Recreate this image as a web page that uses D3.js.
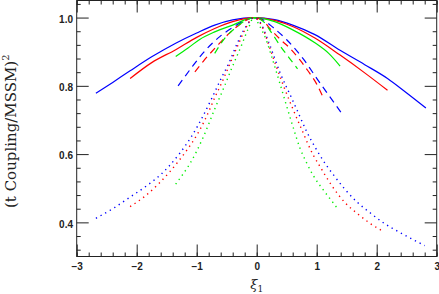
<!DOCTYPE html>
<meta charset="utf-8">
<head>
    <title>t coupling ratio</title>
    <script src="https://d3js.org/d3.v7.min.js"></script>
    <style>
        body { margin: 0; background: #fff; }
        .tick text { font-family: "Liberation Sans", Arial, sans-serif; font-size: 10px; font-weight: bold; fill: #222; }
    </style>
</head>
<body>
<div id="chart"></div>
<script>

// tick values
var xMajor = [-3, -2, -1, 0, 1, 2, 3];
var xMinor = d3.range(-3, 3.01, 0.2).map(function(v) { return +v.toFixed(2); });
var yMajor = [0.4, 0.6, 0.8, 1.0];
var yMinor = [0.32, 0.36, 0.44, 0.48, 0.52, 0.56, 0.64, 0.68, 0.72, 0.76, 0.84, 0.88, 0.92, 0.96, 1.04];

// curves: [xi_1, ratio]
var blueSolid = [[-2.68,0.778],[-2.4,0.810],[-2.11,0.844],[-1.75,0.885],[-1.35,0.925],[-1.0,0.955],[-0.7,0.978],[-0.4,0.993],[-0.05,1.0],[0.3,0.994],[0.6,0.978],[0.97,0.950],[1.39,0.904],[1.8,0.862],[2.18,0.8215],[2.5,0.779],[2.82,0.735]];
var redSolid = [[-2.11,0.8215],[-1.75,0.868],[-1.35,0.906],[-1.0,0.942],[-0.7,0.968],[-0.4,0.988],[-0.05,1.0],[0.3,0.992],[0.6,0.974],[0.97,0.940],[1.39,0.890],[1.8,0.838],[2.18,0.787]];
var greenSolid = [[-1.35,0.886],[-1.15,0.910],[-0.95,0.936],[-0.7,0.958],[-0.4,0.978],[-0.05,1.0],[0.3,0.988],[0.6,0.964],[0.97,0.926],[1.2,0.895],[1.39,0.858]];

var blueDashed = [[-1.31,0.800],[-1.1,0.850],[-0.9,0.895],[-0.61,0.945],[-0.39,0.972],[-0.2,0.991],[-0.05,1.0],[0.1,0.994],[0.28,0.970],[0.5,0.935],[0.78,0.878],[1.03,0.8145],[1.28,0.753],[1.43,0.716]];
var redDashed = [[-1.03,0.841],[-0.89,0.872],[-0.67,0.915],[-0.45,0.955],[-0.25,0.984],[-0.05,1.0],[0.1,0.992],[0.22,0.968],[0.4,0.935],[0.555,0.910],[0.72,0.876],[0.85,0.845],[1.0,0.805],[1.1,0.769]];
var greenDashed = [[-0.70,0.895],[-0.53,0.940],[-0.35,0.970],[-0.2,0.990],[-0.05,1.0],[0.1,0.990],[0.25,0.955],[0.4,0.915],[0.55,0.880],[0.68,0.850]];

var blueDotted = [[-2.68,0.412],[-2.4,0.440],[-2.11,0.474],[-1.82,0.509],[-1.6,0.540],[-1.47,0.563],[-1.28,0.603],[-1.1,0.648],[-0.92,0.703],[-0.75,0.763],[-0.58,0.826],[-0.47,0.864],[-0.33,0.922],[-0.22,0.962],[-0.12,0.988],[-0.05,1.0],[0.05,0.988],[0.2,0.928],[0.39,0.838],[0.58,0.765],[0.69,0.722],[0.83,0.667],[1.0,0.612],[1.19,0.560],[1.28,0.539],[1.47,0.497],[1.67,0.460],[1.89,0.428],[2.11,0.399],[2.39,0.370],[2.6,0.350],[2.8,0.332]];
var redDotted = [[-2.11,0.446],[-1.86,0.477],[-1.64,0.512],[-1.45,0.548],[-1.3,0.580],[-1.15,0.615],[-1.0,0.655],[-0.85,0.705],[-0.7,0.765],[-0.58,0.810],[-0.47,0.855],[-0.31,0.920],[-0.195,0.965],[-0.05,1.0],[0.1,0.970],[0.2,0.920],[0.33,0.855],[0.44,0.803],[0.58,0.742],[0.75,0.672],[0.94,0.598],[1.05,0.565],[1.25,0.508],[1.47,0.458],[1.69,0.424],[1.89,0.397],[2.12,0.3726]];
var greenDotted = [[-1.35,0.512],[-1.23,0.541],[-1.12,0.570],[-0.89,0.650],[-0.695,0.734],[-0.53,0.802],[-0.42,0.850],[-0.25,0.920],[-0.14,0.968],[-0.05,1.0],[0.05,0.975],[0.17,0.929],[0.25,0.885],[0.39,0.805],[0.5,0.740],[0.61,0.677],[0.72,0.618],[0.83,0.575],[0.94,0.538],[1.11,0.495],[1.28,0.456],[1.34,0.442]];

var blue = "#0000ff", red = "#ff0000", green = "#00ee00";
var solid = null, dashed = "7,5", dotted = "1.3,4";

var series = [
    {data: blueSolid, color: blue, dash: solid},
    {data: redSolid, color: red, dash: solid},
    {data: greenSolid, color: green, dash: solid},
    {data: blueDashed, color: blue, dash: dashed},
    {data: redDashed, color: red, dash: dashed},
    {data: greenDashed, color: green, dash: dashed},
    {data: blueDotted, color: blue, dash: dotted},
    {data: redDotted, color: red, dash: dotted},
    {data: greenDotted, color: green, dash: dotted}
];

// dimensions
var margin = {top: 0.5, right: 2.3, bottom: 37.5, left: 76.7},
    width = 439 - margin.left - margin.right,
    height = 294 - margin.top - margin.bottom;

var svg = d3.select("#chart")
    .append("svg")
    .attr("width", 439)
    .attr("height", 294)
    .append("g")
    .attr("transform", "translate(" + margin.left + "," + margin.top + ")");

var x = d3.scaleLinear().domain([-3, 3]).range([0, width]);
var y = d3.scaleLinear().domain([0.3, 1.05]).range([height, 0]);

// curves
var line = d3.line()
    .x(function(d) { return x(d[0]); })
    .y(function(d) { return y(d[1]); })
    .curve(d3.curveMonotoneX);

series.forEach(function(s) {
    svg.append("path")
        .datum(s.data)
        .attr("fill", "none")
        .attr("stroke", s.color)
        .attr("stroke-width", s.dash === dotted ? 1.4 : 1.2)
        .attr("stroke-dasharray", s.dash)
        .attr("d", line);
});

// axes, ticks pointing inward on all four sides
function styleAxis(g) {
    g.select(".domain").remove();
    g.selectAll(".tick line").attr("stroke", "#222").attr("stroke-width", 1);
}

svg.append("g")
    .attr("transform", "translate(0," + height + ")")
    .call(d3.axisBottom(x).tickValues(xMajor).tickSize(-12).tickPadding(6.3).tickFormat(d3.format("d")))
    .call(styleAxis);
svg.append("g")
    .attr("transform", "translate(0," + height + ")")
    .call(d3.axisBottom(x).tickValues(xMinor).tickSize(-4).tickFormat(""))
    .call(styleAxis);
svg.append("g")
    .call(d3.axisTop(x).tickValues(xMajor).tickSize(-12).tickFormat(""))
    .call(styleAxis);
svg.append("g")
    .call(d3.axisTop(x).tickValues(xMinor).tickSize(-4).tickFormat(""))
    .call(styleAxis);

svg.append("g")
    .call(d3.axisLeft(y).tickValues(yMajor).tickSize(-12).tickPadding(3.7).tickFormat(d3.format(".1f")))
    .call(styleAxis)
    .selectAll(".tick text").attr("dy", "0.47em");
svg.append("g")
    .call(d3.axisLeft(y).tickValues(yMinor).tickSize(-4).tickFormat(""))
    .call(styleAxis);
svg.append("g")
    .attr("transform", "translate(" + width + ",0)")
    .call(d3.axisRight(y).tickValues(yMajor).tickSize(-12).tickFormat(""))
    .call(styleAxis);
svg.append("g")
    .attr("transform", "translate(" + width + ",0)")
    .call(d3.axisRight(y).tickValues(yMinor).tickSize(-4).tickFormat(""))
    .call(styleAxis);

// frame
svg.append("rect")
    .attr("width", width)
    .attr("height", height)
    .attr("fill", "none")
    .attr("stroke", "#222")
    .attr("stroke-width", 1);

// X axis label
var xl = svg.append("text")
    .attr("x", x(0))
    .attr("y", height + 32)
    .attr("text-anchor", "middle")
    .style("font-family", "DejaVu Serif, serif")
    .style("font-size", "13px")
    .attr("fill", "#222");
xl.append("tspan").style("font-style", "italic").text("ξ");
xl.append("tspan").attr("dy", 3).style("font-size", "9px").text("1");

// Y axis label
var yl = svg.append("text")
    .attr("transform", "translate(" + (16 - margin.left) + "," + (208 - margin.top) + ") rotate(-90)")
    .attr("text-anchor", "start")
    .style("font-family", "DejaVu Serif, serif")
    .style("font-size", "15px")
    .attr("fill", "#222");
yl.append("tspan").text("(t Coupling/MSSM)");
yl.append("tspan").attr("dy", -7).style("font-size", "10px").text("2");

</script>
</body>
</html>
